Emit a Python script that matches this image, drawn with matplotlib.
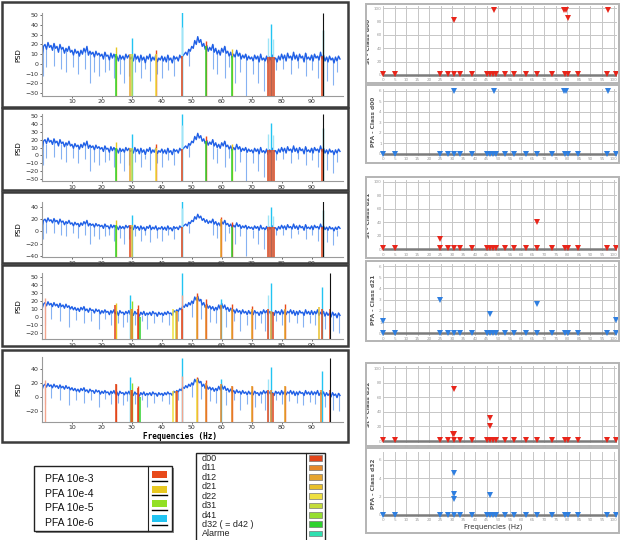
import numpy as np
import matplotlib.pyplot as plt
from matplotlib.patches import Rectangle

# PSD trace, one value every 0.5 Hz from 0 Hz (panels 1-3)
psd_a = [8, 18, 20, 15, 22, 17, 19, 14, 21, 16, 18, 12, 20, 15, 17, 11, 16, 13, 18, 12,
         14, 9, 15, 11, 13, 8, 14, 10, 16, 12, 18, 9, 13, 10, 12, 7, 13, 9, 11, 8,
         10, 5, 12, 8, 9, 4, 11, 6, 10, 7, 8, 3, 9, 5, 8, 4, 10, 6, 9, 5,
         7, 3, 10, 5, 8, 2, 9, 4, 7, 1, 8, 5, 10, 3, 7, 4, 9, 2, 6, 4,
         8, 3, 7, 2, 9, 4, 6, 1, 8, 5, 7, 3, 9, 6, 8, 10, 12, 9, 15, 13,
         18, 16, 24, 20, 28, 22, 25, 18, 21, 15, 19, 13, 17, 14, 20, 12, 16, 10, 14, 9,
         16, 12, 18, 11, 13, 8, 12, 6, 10, 7, 14, 8, 11, 5, 9, 6, 10, 4, 8, 5,
         7, 3, 9, 5, 8, 2, 10, 4, 6, 3, 8, 1, 7, 4, 9, 5, 6, 2, 8, 4,
         10, 5, 9, 3, 11, 6, 8, 4, 12, 5, 9, 3, 10, 6, 8, 2, 11, 5, 7, 4,
         9, 3, 10, 6, 8, 4, 12, 5, 9, 3, 7, 2, 8, 4, 6, 1, 7, 3, 8, 5]
dip_a_f = [0.5, 1.5, 4, 6.5, 8, 10.5, 12, 14.5, 16, 17.5, 19, 21, 22.5, 24, 26, 27.5,
           29, 31, 33, 34.5, 36, 38.5, 40, 42, 44, 49, 57, 58.5, 61, 62.5, 64.5, 66,
           68, 70.5, 72, 74, 78, 80.5, 83, 85.5, 88, 90, 92, 95, 97, 98.5]
dip_a_v = [-12, -3, -2, -5, -8, -3, -10, -5, -20, -8, -12, -8, -6, -15, -10, -20,
           -12, -8, -15, -5, -18, -10, -15, -6, -12, -2, -5, -10, -15, -3, -20, -8,
           -40, -10, -20, -28, -6, -5, -10, -4, -12, -6, -15, -18, -22, -8]

# PSD trace for panels 4-5
psd_b = [10, 16, 18, 14, 19, 15, 17, 13, 18, 14, 16, 12, 17, 13, 15, 11, 16, 12, 14, 10,
         13, 9, 12, 8, 11, 7, 12, 9, 13, 8, 10, 6, 11, 8, 9, 5, 10, 7, 9, 4,
         8, 5, 9, 6, 7, 3, 8, 5, 9, 4, 7, 2, 8, 5, 6, 3, 7, 4, 8, 3,
         6, 2, 7, 4, 5, 1, 6, 3, 7, 2, 5, 3, 6, 2, 7, 4, 5, 1, 6, 3,
         5, 2, 6, 3, 7, 4, 5, 2, 8, 6, 9, 7, 11, 9, 14, 12, 16, 13, 18, 15,
         20, 17, 25, 21, 26, 20, 22, 15, 18, 12, 16, 11, 14, 10, 13, 8, 12, 9, 15, 10,
         17, 11, 15, 9, 12, 7, 11, 6, 9, 5, 10, 6, 8, 4, 9, 5, 7, 3, 8, 4,
         7, 3, 8, 5, 6, 2, 7, 4, 9, 5, 8, 3, 7, 4, 6, 2, 8, 5, 7, 3,
         9, 4, 8, 3, 7, 5, 9, 4, 8, 2, 7, 3, 8, 5, 6, 2, 9, 4, 7, 3,
         8, 3, 7, 4, 9, 2, 6, 3, 7, 1, 6, 2, 5, 0, 6, 2, 4, -1, 5, 2]
dip_b_f = [1, 3, 6, 9, 11.5, 14, 16.5, 19, 21, 23, 25.5, 27, 28.5, 31, 33.5, 35, 37.5,
           40, 42.5, 45.5, 50, 53, 56, 58, 61.5, 64, 66, 68.5, 71, 73, 74.5, 78, 80,
           82.5, 85, 87, 89.5, 91, 94.5, 97, 99]
dip_b_v = [-10, -2, -5, -12, -4, -8, -5, -15, -3, -10, -8, -12, -6, -10, -5, -15, -8,
           -6, -10, -5, 0, -3, -6, -8, -12, -5, -18, -10, -15, -8, -18, -5, -10,
           -6, -8, -12, -7, -10, -15, -18, -20]

# detections on the PSD panels: thin lines (PFA level) and thick bars (class)
p1_tip_f = [24.6, 30.0, 38.0, 46.6, 46.9, 54.6, 63.6, 75.6, 76.5, 77.2, 93.8, 93.7]
p1_tip_top = [17, 27, 14, 53, 38, 24, 15, 27, 41, 26, 35, 52]
p1_tip_cls = ['pfa4', 'pfa6', 'pfa3', 'pfa6', 'pfa6l', 'pfa3', 'pfa4', 'pfa6l', 'pfa6',
              'pfa6l', 'teal', 'peak']
p1_bar_f = [24.6, 29.5, 30.1, 38.0, 46.8, 54.6, 63.6, 75.6, 76.1, 76.7, 77.3, 93.6]
p1_bar_top = [10, 10, 10, 10, 8, 18, 8, 7, 7, 7, 7, 8]
p1_bar_cls = ['d32', 'd12', 'd31', 'd22', 'd00', 'd32', 'd32', 'd00', 'd00', 'd00',
              'd00', 'd00']

p3_tip_f = [24.6, 30.0, 46.6, 46.9, 59.6, 63.6, 75.6, 76.5, 77.2, 93.8, 93.7]
p3_tip_top = [18, 27, 52, 38, 24, 16, 27, 40, 25, 35, 52]
p3_tip_cls = ['pfa4', 'pfa6', 'pfa6', 'pfa6l', 'pfa3', 'pfa3', 'pfa6l', 'pfa6', 'pfa6l',
              'teal', 'peak']
p3_bar_f = [24.6, 29.5, 30.1, 46.8, 59.6, 63.6, 75.6, 76.1, 76.7, 77.3, 93.6]
p3_bar_top = [10, 10, 10, 8, 20, 8, 7, 7, 7, 7, 8]
p3_bar_cls = ['d32', 'd00', 'd21', 'd00', 'd12', 'd32', 'd00', 'd00', 'd00', 'd00', 'd00']

p4_tip_f = [1.0, 24.6, 29.5, 30.1, 32.2, 46.6, 46.9, 51.6, 54.6, 59.6, 63.6, 70.0, 75.6,
            76.5, 81.0, 93.6, 96.0]
p4_tip_top = [24, 17, 28, 20, 15, 55, 28, 30, 22, 22, 16, 14, 27, 42, 16, 37, 55]
p4_tip_cls = ['pfa3l', 'pfa4', 'pfa6', 'pfa5', 'pfa3', 'pfa6', 'pfa3l', 'pfa3', 'pfa3',
              'pfa6', 'pfa3', 'pfa3', 'pfa6l', 'pfa6', 'pfa3', 'pfa6', 'peak']
p4_bar_f = [24.5, 29.6, 30.0, 32.0, 32.6, 43.6, 44.6, 45.1, 46.7, 51.6, 54.6, 59.6, 63.6,
            70.1, 75.6, 76.6, 77.1, 81.1, 92.6, 93.6, 96.1]
p4_bar_top = [15, 10, 10, 10, 0, 10, 8, 8, 10, 25, 15, 15, 10, 10, 10, 8, 6, 10, 12, 10, 10]
p4_bar_cls = ['d00', 'd12', 'd11', 'd00', 'd32', 'd22', 'd31', 'd11', 'd00', 'd12', 'd11',
              'd11', 'd12', 'd12', 'd00', 'd12', 'd00', 'd12', 'd21', 'd00', 'd00']

p5_tip_f = [1.0, 24.6, 29.5, 30.1, 32.2, 46.6, 46.9, 51.6, 54.6, 59.6, 63.6, 70.0, 75.6,
            76.5, 81.0, 93.6, 96.0]
p5_tip_top = [24, 18, 28, 20, 15, 55, 30, 28, 24, 26, 16, 16, 25, 43, 16, 37, 56]
p5_tip_cls = ['pfa3l', 'pfa3', 'pfa6', 'pfa5', 'pfa3', 'pfa6', 'pfa3l', 'pfa3', 'pfa3',
              'pfa6', 'pfa3', 'pfa3', 'pfa6l', 'pfa6', 'pfa3', 'pfa6', 'peak']
p5_bar_f = [24.6, 29.6, 30.0, 32.0, 32.6, 43.6, 44.6, 45.1, 51.6, 54.6, 59.6, 63.6, 70.1,
            75.6, 76.6, 77.1, 81.1, 93.0, 96.1]
p5_bar_top = [18, 10, 10, 12, 0, 8, 8, 8, 25, 20, 18, 15, 15, 10, 10, 6, 15, 10, 10]
p5_bar_cls = ['d00', 'd11', 'd00', 'd00', 'd32', 'd22', 'd12', 'd00', 'd22', 'd11', 'd11',
              'd11', 'd12', 'd00', 'd11', 'd00', 'd12', 'd11', 'd00']

# class / PFA indicator panels (right)
right_f = [0, 5.1, 24.9, 28.4, 30.7, 33.3, 38.8, 45.2, 46.4, 47.5, 48.8, 53.0, 56.7,
           61.9, 66.7, 73.2, 79.0, 80.4, 84.5, 97.1, 101.0]
st_base, pfa_base = 2, 0
st_d00_f, st_d00_v = [30.7, 48.3, 78.6, 79.4, 80.4, 97.6], [82, 98, 98, 98, 86, 98]
pfa_d00_f, pfa_d00_v = [30.7, 48.3, 78.6, 79.4, 97.6], [6, 6, 6, 6, 6]
st_d21_f, st_d21_v = [24.9, 66.7], [15, 40]
pfa_d21_f, pfa_d21_v = [0, 24.9, 46.4, 66.7, 101.0], [1.1, 3.0, 1.7, 2.6, 1.2]
st_d32_f, st_d32_v = [30.7, 30.4, 31.0, 46.4, 46.4], [72, 10, 10, 31, 20]
pfa_d32_f, pfa_d32_v = [30.7, 30.7, 30.7, 46.4], [4.6, 2.3, 1.7, 2.2]

pfa_labels = ['PFA 10e-3', 'PFA 10e-4', 'PFA 10e-5', 'PFA 10e-6']
pfa_keys = ['pfa3', 'pfa4', 'pfa5', 'pfa6']
class_labels = ['d00', 'd11', 'd12', 'd21', 'd22', 'd31', 'd41', 'd32 ( = d42 )', 'Alarme']
class_keys = ['d00', 'd11', 'd12', 'd21', 'd22', 'd31', 'd41', 'd32', 'Alarme']

COLORS = {'d00': '#e2451a', 'd11': '#e6882a', 'd12': '#e6a530', 'd21': '#e8c02a',
          'd22': '#efe040', 'd31': '#c4dc3a', 'd41': '#96de30', 'd32': '#2ed22e',
          'Alarme': '#2ee0b0', 'pfa3': '#e84a1a', 'pfa4': '#e8c820', 'pfa5': '#92e024',
          'pfa6': '#22c4f2', 'pfa6l': '#9fe4f6', 'pfa3l': '#f3a58e', 'teal': '#17908f',
          'peak': '#111111'}

W, H = 623, 540
fig = plt.figure(figsize=(W / 100, H / 100), dpi=100)
fig.patch.set_facecolor('white')


def px_axes(l, t, r, b):
    return fig.add_axes([l / W, 1 - b / H, (r - l) / W, (b - t) / H])


def px_rect(l, t, r, b, **kw):
    fig.patches.append(Rectangle((l / W, 1 - b / H), (r - l) / W, (b - t) / H,
                                 transform=fig.transFigure, **kw))


def px_line(x0, x1, y0, y1, **kw):
    fig.add_artist(plt.Line2D([x0 / W, x1 / W], [1 - y0 / H, 1 - y1 / H],
                              transform=fig.transFigure, **kw))


def psd_panel(frame, rect, ylim, yticks, psd, dip_f, dip_v, tips, bars):
    px_rect(*frame, fill=False, edgecolor='#3c3c3c', lw=1.8)
    ax = px_axes(*rect)
    f = np.arange(len(psd)) * 0.5
    ax.vlines(dip_f, dip_v, np.interp(dip_f, f, psd), color='#86b2f2', lw=0.8, zorder=1)
    ax.plot(f, psd, color='#1f5fe6', lw=1.0, zorder=2)
    tf, tt, tc = tips
    for x, top, c in zip(tf, tt, tc):
        if c == 'peak':
            ax.vlines(x, ylim[0], top, color=COLORS[c], lw=0.8, zorder=5)
        else:
            ax.vlines(x, ylim[0], top, color=COLORS[c], lw=1.0, zorder=3)
    bf, bt, bc = bars
    ax.vlines(bf, ylim[0], bt, colors=[COLORS[c] for c in bc], lw=1.1, zorder=4)
    ax.set_xlim(0, 100.5)
    ax.set_ylim(*ylim)
    ax.set_xticks(range(10, 100, 10))
    ax.set_yticks(yticks)
    ax.tick_params(labelsize=4.5, length=1.5, width=0.5, colors='#333333', pad=1)
    for s in ['top', 'right']:
        ax.spines[s].set_visible(False)
    for s in ['left', 'bottom']:
        ax.spines[s].set_color('#9a9a9a')
        ax.spines[s].set_linewidth(0.8)
    ax.set_ylabel('PSD', fontsize=5, labelpad=3)
    return ax


def class_panel(frame, rect, ylim, yticks, ylabel, ef, ev, color, ms, base):
    px_rect(*frame, fill=False, edgecolor='#b4b4b4', lw=1.4)
    ax = px_axes(*rect)
    ax.set_xlim(0, 101.5)
    ax.set_ylim(*ylim)
    ax.set_xticks(np.arange(0, 101, 5))
    ax.set_yticks(yticks)
    ax.grid(True, color='#c6c6c6', lw=0.7)
    ax.set_axisbelow(True)
    ax.axhline(0, color='#7c7c7c', lw=1.8, zorder=2)
    for s in ax.spines.values():
        s.set_visible(False)
    ax.tick_params(labelsize=3, length=0, colors='#9a9a9a', pad=1)
    ax.plot(right_f, np.full(len(right_f), base), 'v', color=color, ms=ms, mew=0,
            zorder=3, clip_on=False)
    ax.plot(ef, ev, 'v', color=color, ms=ms, mew=0, zorder=3, clip_on=False)
    ax.set_ylabel(ylabel, fontsize=4.2, fontweight='bold', color='#555555', labelpad=2)
    return ax


# left PSD panels
psd_panel((2, 2, 348, 107), (42, 13.3, 343, 96), (-33, 52), range(-30, 51, 10),
          psd_a, dip_a_f, dip_a_v, (p1_tip_f, p1_tip_top, p1_tip_cls),
          (p1_bar_f, p1_bar_top, p1_bar_cls))
psd_panel((2, 108, 348, 190), (42, 114.4, 343, 181.4), (-33, 52), range(-30, 51, 10),
          psd_a, dip_a_f, dip_a_v, (p1_tip_f, p1_tip_top, p1_tip_cls),
          (p1_bar_f, p1_bar_top, p1_bar_cls))
psd_panel((2, 192, 348, 263), (42, 202, 343, 257.2), (-42, 48), range(-40, 41, 20),
          psd_a, dip_a_f, dip_a_v, (p3_tip_f, p3_tip_top, p3_tip_cls),
          (p3_bar_f, p3_bar_top, p3_bar_cls))
psd_panel((2, 265, 348, 346), (42, 273, 343, 339.4), (-28, 55), range(-20, 51, 10),
          psd_b, dip_b_f, dip_b_v, (p4_tip_f, p4_tip_top, p4_tip_cls),
          (p4_bar_f, p4_bar_top, p4_bar_cls))
psd_panel((2, 350, 348, 442), (42, 356.8, 343, 421.5), (-35, 57), range(-20, 41, 20),
          psd_b, dip_b_f, dip_b_v, (p5_tip_f, p5_tip_top, p5_tip_cls),
          (p5_bar_f, p5_bar_top, p5_bar_cls))
fig.text(180 / W, 1 - 436.5 / H, 'Frequencies (Hz)', fontsize=5.5, fontweight='bold',
         family='DejaVu Sans Mono', ha='center', va='center')

# right class panels
red, blue = '#e8251a', '#2f7fe0'
class_panel((366, 4, 619, 83), (383, 6.3, 617, 77), (-3, 103), range(0, 101, 20),
            'St - Class d00', st_d00_f, st_d00_v, red, 5, st_base)
class_panel((366, 85, 619, 163), (383, 88.6, 617, 156), (-0.2, 6.2), range(0, 7),
            'PFA - Class d00', pfa_d00_f, pfa_d00_v, blue, 3.8, pfa_base)
class_panel((366, 177, 619, 258), (383, 179.7, 617, 251.3), (-3, 103), range(0, 101, 20),
            'St - Class d21', st_d21_f, st_d21_v, red, 5, st_base)
class_panel((366, 261, 619, 341), (383, 263.8, 617, 335.5), (-0.2, 6.2), range(0, 7),
            'PFA - Class d21', pfa_d21_f, pfa_d21_v, blue, 3.8, pfa_base)
class_panel((366, 363, 619, 446), (383, 366.1, 617, 443.2), (-3, 103), range(0, 101, 20),
            'St - Class d32', st_d32_f, st_d32_v, red, 5, st_base)
class_panel((366, 448, 619, 533), (383, 451.7, 617, 516.8), (-0.2, 6.9), range(0, 7, 2),
            'PFA - Class d32', pfa_d32_f, pfa_d32_v, blue, 3.8, pfa_base)
fig.text(493 / W, 1 - 527 / H, 'Frequencies (Hz)', fontsize=5, color='#333333',
         ha='center', va='center')

# PFA legend
px_rect(36, 468, 174, 533, facecolor='#8a8a8a', edgecolor='none')
px_rect(34, 466, 172, 531, facecolor='white', edgecolor='#222222', lw=1.0)
px_line(148, 148, 466, 531, color='#222222', lw=0.8)
for i, (lab, key) in enumerate(zip(pfa_labels, pfa_keys)):
    yc = 479 + i * 14.7
    fig.text(45 / W, 1 - yc / H, lab, fontsize=7.5, family='Liberation Sans',
             ha='left', va='center', color='#111111')
    px_rect(152, yc - 8, 167, yc - 1, facecolor=COLORS[key], edgecolor='none')
    px_line(152, 167, yc + 1.5, yc + 1.5, color='black', lw=1.0)

# class legend
px_rect(196, 453, 325, 545, facecolor='white', edgecolor='#222222', lw=1.0)
px_line(306, 306, 453, 540, color='#222222', lw=0.8)
for i, (lab, key) in enumerate(zip(class_labels, class_keys)):
    yc = 458.3 + i * 9.45
    fig.text(201.5 / W, 1 - yc / H, lab, fontsize=6.5, family='Liberation Sans',
             ha='left', va='center', color='#222222')
    px_rect(309, yc - 3, 322, yc + 2.5, facecolor=COLORS[key], edgecolor='#777777', lw=0.5)

fig.savefig('out.png', dpi=100)
